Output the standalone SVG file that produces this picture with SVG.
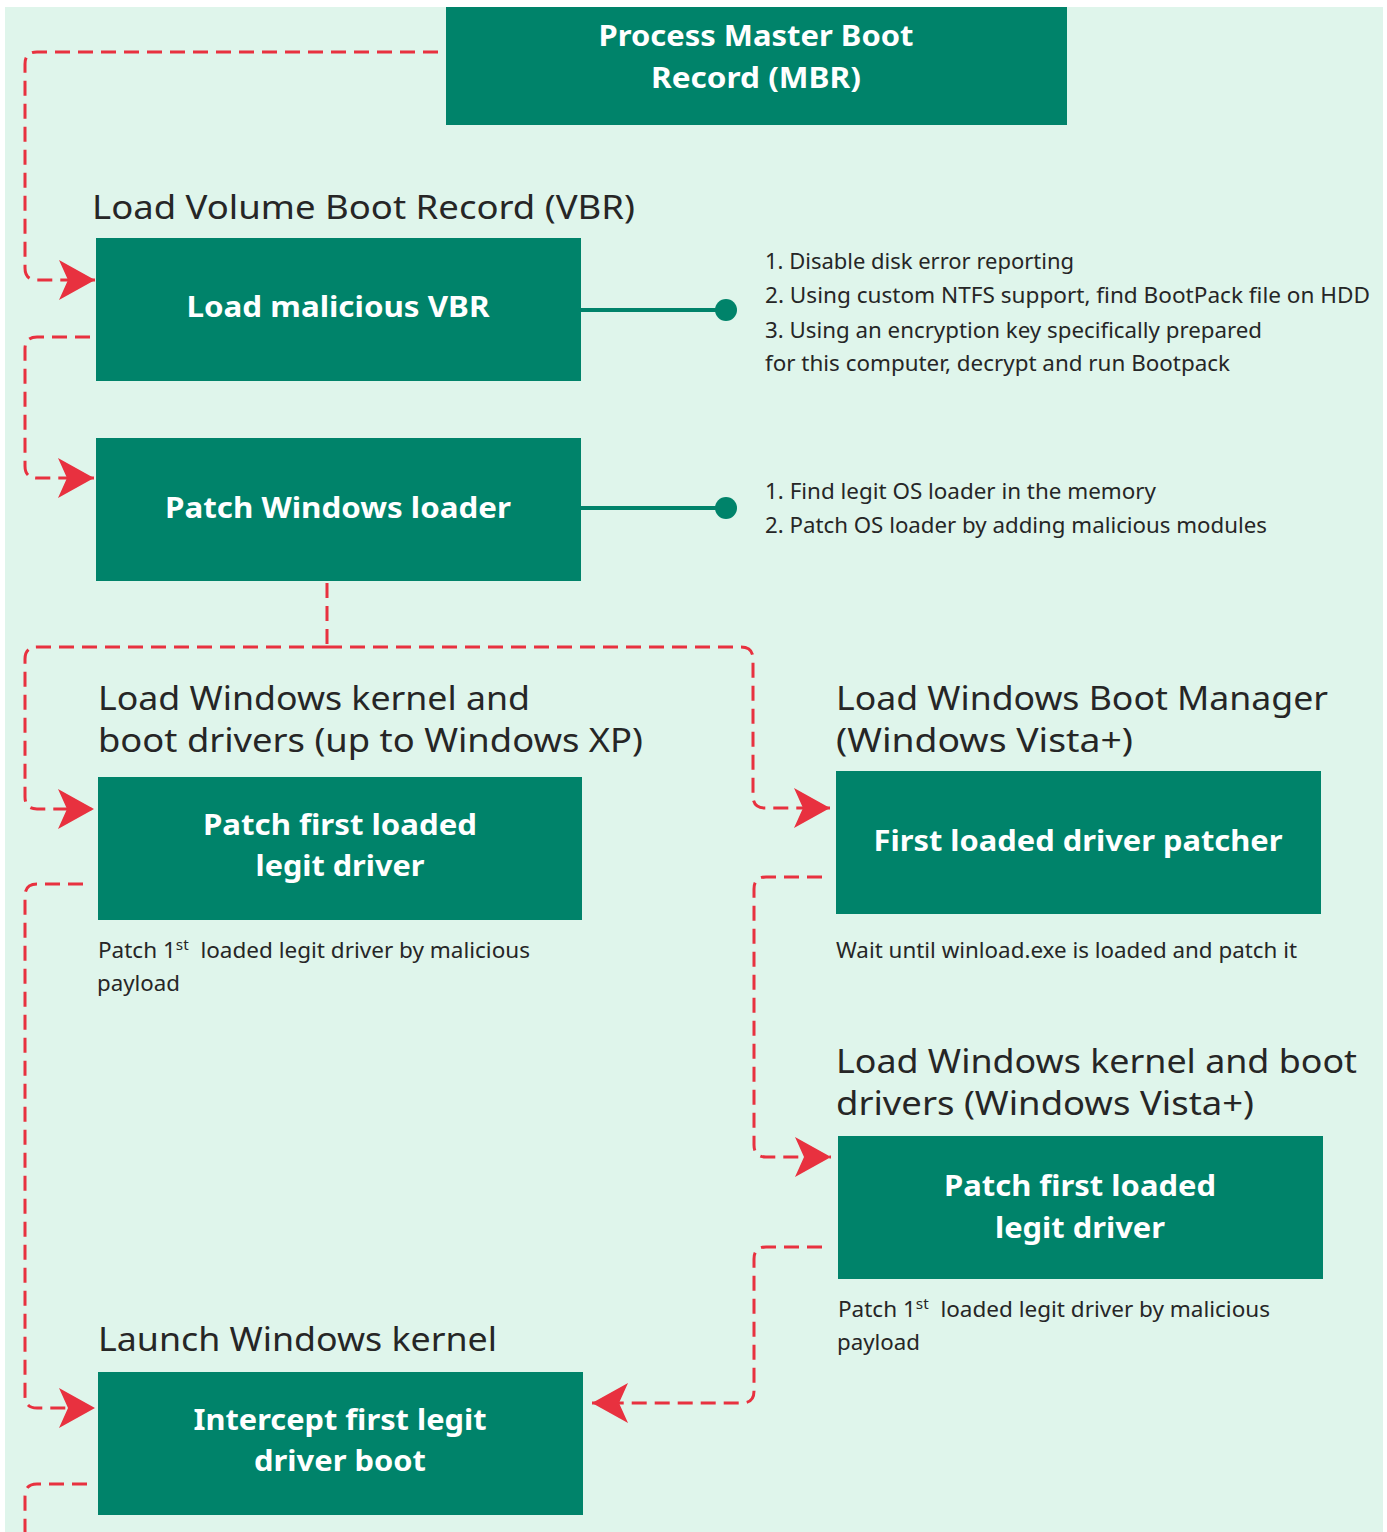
<svg xmlns="http://www.w3.org/2000/svg" width="1387" height="1532" viewBox="0 0 1387 1532">
  <defs>
    <style>
      .box { fill: #00836a; }
      .btxt { font-family: "Noto Sans", "Open Sans", sans-serif; font-weight: 700; font-size: 29px; fill: #ffffff; text-anchor: middle; }
      .head { font-family: "Noto Sans", "Open Sans", sans-serif; font-size: 32px; fill: #262626; }
      .note { font-family: "Noto Sans", "Open Sans", sans-serif; font-size: 22px; fill: #262626; }
      .sup { font-size: 15px; }
      .flow { fill: none; stroke: #e8313f; stroke-width: 3; stroke-dasharray: 15 8; marker-end: url(#arrow); }
      .flow-plain { fill: none; stroke: #e8313f; stroke-width: 3; stroke-dasharray: 15 8; }
      .link { fill: none; stroke: #00836a; stroke-width: 4; }
      .dot { fill: #00836a; }
    </style>
    <marker id="arrow" viewBox="0 0 36 40" refX="36" refY="20" markerWidth="36" markerHeight="40" markerUnits="userSpaceOnUse" orient="auto">
      <path d="M0,0 L36,20 L0,40 L9,20 Z" fill="#e8313f"/>
    </marker>
  </defs>

  <!-- page -->
  <rect x="0" y="0" width="1387" height="1532" fill="#ffffff"/>
  <rect x="5" y="7" width="1378" height="1525" fill="#dff5eb"/>

  <!-- dashed flow connectors -->
  <g id="connectors">
    <path class="flow" d="M438,52 H37 Q25,52 25,64 V268 Q25,280 37,280 H95"/>
    <path class="flow" d="M90,337 H37 Q25,337 25,349 V466 Q25,478 37,478 H94"/>
    <path class="flow-plain" d="M327,583 V647"/>
    <path class="flow" d="M327,647 H37 Q25,647 25,659 V797 Q25,809 37,809 H94"/>
    <path class="flow" d="M327,647 H741 Q753,647 753,659 V796 Q753,808 765,808 H830"/>
    <path class="flow" d="M83,884 H37 Q25,884 25,896 V1396 Q25,1408 37,1408 H95"/>
    <path class="flow" d="M822,877 H766 Q754,877 754,889 V1145 Q754,1157 766,1157 H831"/>
    <path class="flow" d="M822,1247 H766 Q754,1247 754,1259 V1391 Q754,1403 742,1403 H592"/>
    <path class="flow-plain" d="M87,1484 H37 Q25,1484 25,1496 V1532"/>
    <!-- detail callouts -->
    <path class="link" d="M581,310 H726"/>
    <circle class="dot" cx="726" cy="310" r="11"/>
    <path class="link" d="M581,508 H726"/>
    <circle class="dot" cx="726" cy="508" r="11"/>
  </g>

  <g id="mbr">
    <rect class="box" x="446" y="7" width="621" height="118"/>
    <text class="btxt" x="756" y="46" textLength="315" lengthAdjust="spacingAndGlyphs">Process Master Boot</text>
    <text class="btxt" x="756" y="88" textLength="210" lengthAdjust="spacingAndGlyphs">Record (MBR)</text>
  </g>

  <g id="vbr-stage">
    <text class="head" x="92" y="219" textLength="543" lengthAdjust="spacingAndGlyphs">Load Volume Boot Record (VBR)</text>
  </g>

  <g id="load-vbr">
    <rect class="box" x="96" y="238" width="485" height="143"/>
    <text class="btxt" x="338" y="317" textLength="303" lengthAdjust="spacingAndGlyphs">Load malicious VBR</text>
  </g>

  <g id="vbr-notes">
    <text class="note" x="765" y="269" textLength="309" lengthAdjust="spacingAndGlyphs">1. Disable disk error reporting</text>
    <text class="note" x="765" y="303" textLength="605" lengthAdjust="spacingAndGlyphs">2. Using custom NTFS support, find BootPack file on HDD</text>
    <text class="note" x="765" y="338" textLength="497" lengthAdjust="spacingAndGlyphs">3. Using an encryption key specifically prepared</text>
    <text class="note" x="765" y="371" textLength="465" lengthAdjust="spacingAndGlyphs">for this computer, decrypt and run Bootpack</text>
  </g>

  <g id="patch-loader">
    <rect class="box" x="96" y="438" width="485" height="143"/>
    <text class="btxt" x="338" y="518" textLength="346" lengthAdjust="spacingAndGlyphs">Patch Windows loader</text>
  </g>

  <g id="loader-notes">
    <text class="note" x="765" y="499" textLength="391" lengthAdjust="spacingAndGlyphs">1. Find legit OS loader in the memory</text>
    <text class="note" x="765" y="533" textLength="502" lengthAdjust="spacingAndGlyphs">2. Patch OS loader by adding malicious modules</text>
  </g>

  <g id="xp-stage">
    <text class="head" x="98" y="710" textLength="432" lengthAdjust="spacingAndGlyphs">Load Windows kernel and</text>
    <text class="head" x="98" y="752" textLength="545" lengthAdjust="spacingAndGlyphs">boot drivers (up to Windows XP)</text>
  </g>

  <g id="xp-patch-driver">
    <rect class="box" x="98" y="777" width="484" height="143"/>
    <text class="btxt" x="340" y="835" textLength="274" lengthAdjust="spacingAndGlyphs">Patch first loaded</text>
    <text class="btxt" x="340" y="876" textLength="169" lengthAdjust="spacingAndGlyphs">legit driver</text>
    <text class="note" x="98" y="958" textLength="432" lengthAdjust="spacingAndGlyphs" xml:space="preserve">Patch 1<tspan class="sup" dy="-8">st</tspan><tspan dy="8">  loaded legit driver by malicious</tspan></text>
    <text class="note" x="97" y="991" textLength="83" lengthAdjust="spacingAndGlyphs">payload</text>
  </g>

  <g id="bootmgr-stage">
    <text class="head" x="836" y="710" textLength="492" lengthAdjust="spacingAndGlyphs">Load Windows Boot Manager</text>
    <text class="head" x="836" y="752" textLength="297" lengthAdjust="spacingAndGlyphs">(Windows Vista+)</text>
  </g>

  <g id="driver-patcher">
    <rect class="box" x="836" y="771" width="485" height="143"/>
    <text class="btxt" x="1078" y="851" textLength="409" lengthAdjust="spacingAndGlyphs">First loaded driver patcher</text>
    <text class="note" x="836" y="958" textLength="461" lengthAdjust="spacingAndGlyphs">Wait until winload.exe is loaded and patch it</text>
  </g>

  <g id="vista-stage">
    <text class="head" x="836" y="1073" textLength="521" lengthAdjust="spacingAndGlyphs">Load Windows kernel and boot</text>
    <text class="head" x="836" y="1115" textLength="418" lengthAdjust="spacingAndGlyphs">drivers (Windows Vista+)</text>
  </g>

  <g id="vista-patch-driver">
    <rect class="box" x="838" y="1136" width="485" height="143"/>
    <text class="btxt" x="1080" y="1196" textLength="272" lengthAdjust="spacingAndGlyphs">Patch first loaded</text>
    <text class="btxt" x="1080" y="1238" textLength="170" lengthAdjust="spacingAndGlyphs">legit driver</text>
    <text class="note" x="838" y="1317" textLength="432" lengthAdjust="spacingAndGlyphs" xml:space="preserve">Patch 1<tspan class="sup" dy="-8">st</tspan><tspan dy="8">  loaded legit driver by malicious</tspan></text>
    <text class="note" x="837" y="1350" textLength="83" lengthAdjust="spacingAndGlyphs">payload</text>
  </g>

  <g id="kernel-stage">
    <text class="head" x="98" y="1351" textLength="399" lengthAdjust="spacingAndGlyphs">Launch Windows kernel</text>
  </g>

  <g id="intercept-driver">
    <rect class="box" x="98" y="1372" width="485" height="143"/>
    <text class="btxt" x="340" y="1430" textLength="293" lengthAdjust="spacingAndGlyphs">Intercept first legit</text>
    <text class="btxt" x="340" y="1471" textLength="172" lengthAdjust="spacingAndGlyphs">driver boot</text>
  </g>
</svg>
